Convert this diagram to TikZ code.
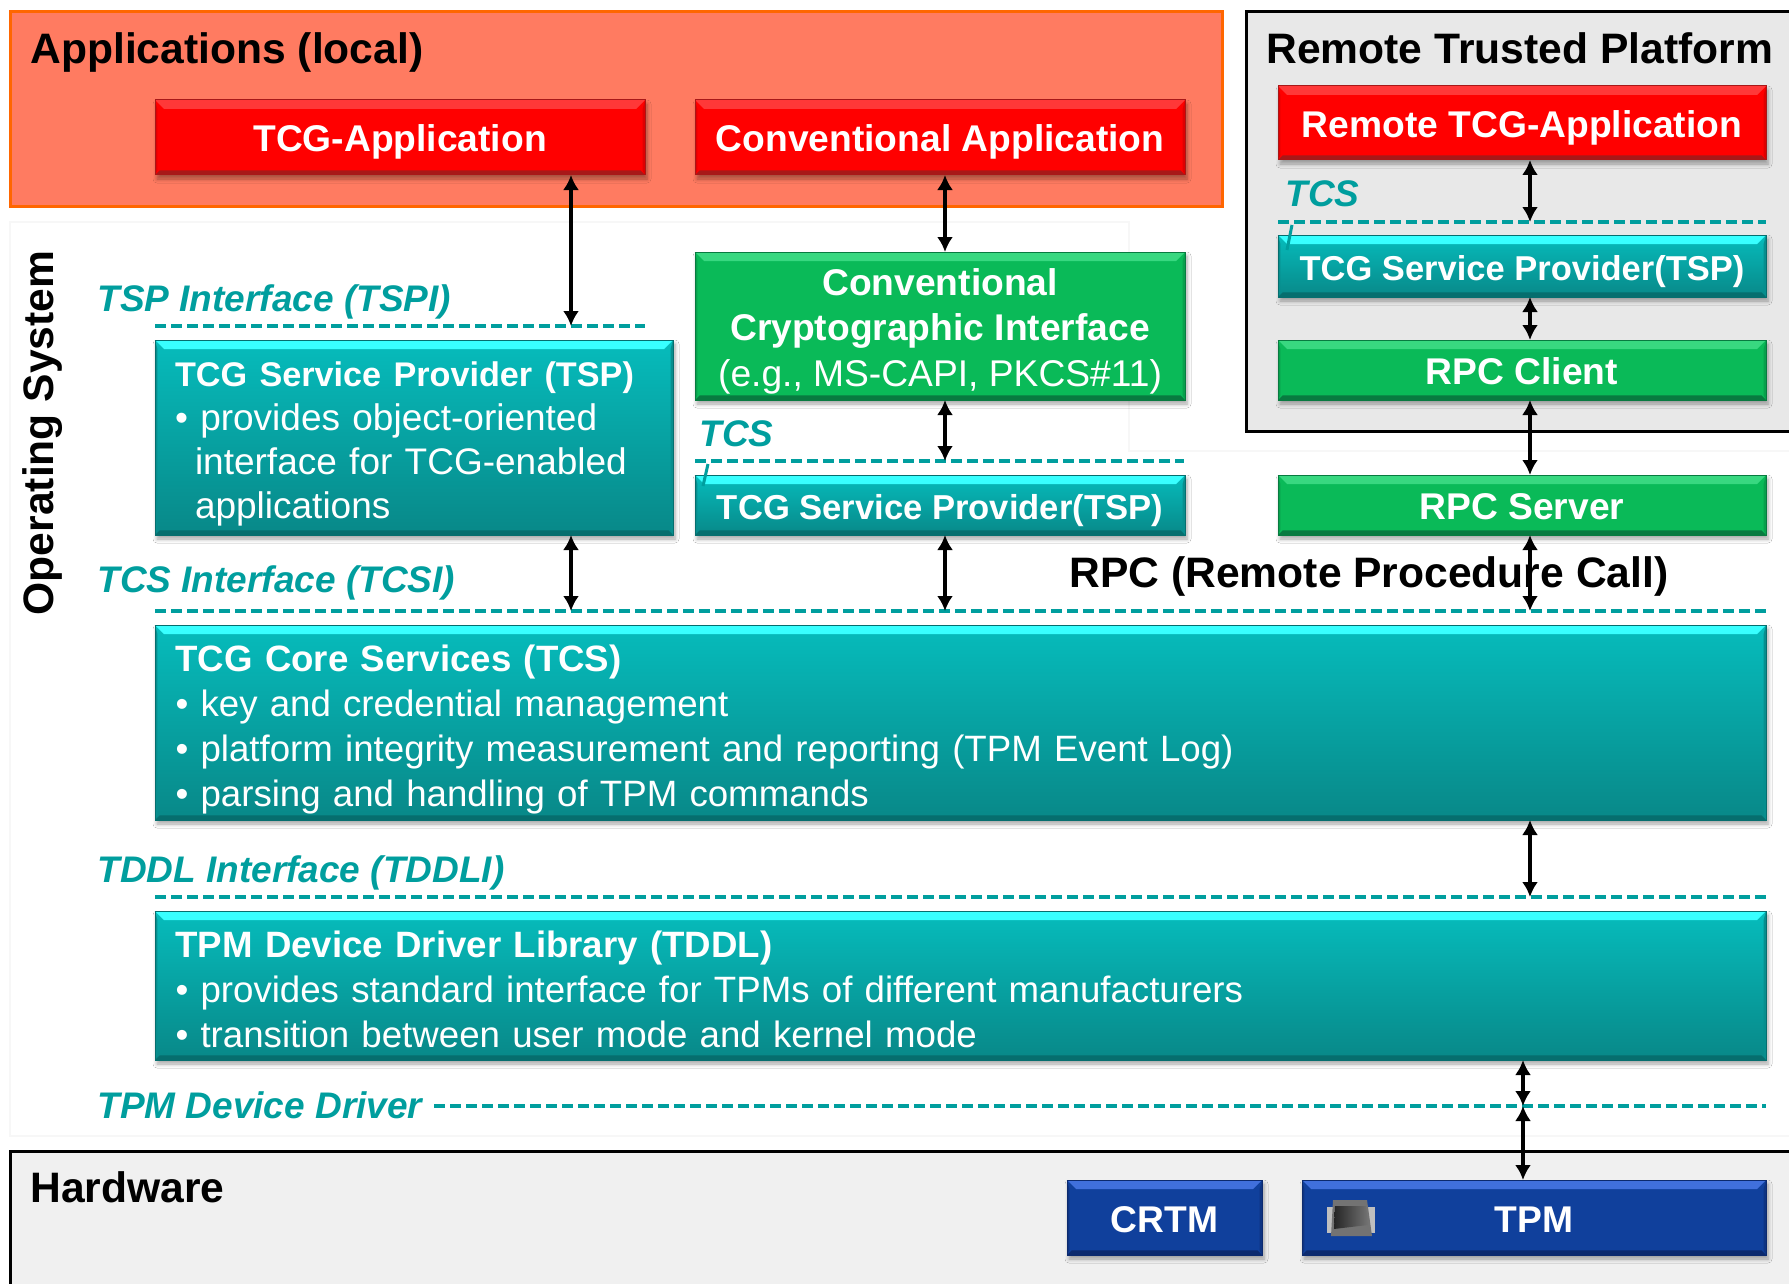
\documentclass[tikz,border=0pt]{standalone}
\usepackage{fontspec}
\setmainfont{Liberation Sans}
\usetikzlibrary{arrows.meta,shadows,shadows.blur}
\definecolor{apporange}{HTML}{FF7B61}
\definecolor{appborder}{HTML}{FF6600}
\definecolor{ifteal}{HTML}{009E9E}
\definecolor{redtop}{HTML}{FF3838}
\definecolor{redlow}{HTML}{A81818}
\definecolor{redside}{HTML}{E00000}
\definecolor{greenmain}{HTML}{0ABA58}
\definecolor{greentop}{HTML}{38D880}
\definecolor{greenlow}{HTML}{087A40}
\definecolor{greenside}{HTML}{08A04C}
\definecolor{tealup}{HTML}{06BCBC}
\definecolor{teallow}{HTML}{088888}
\definecolor{tealtop}{HTML}{38FFFF}
\definecolor{tealdark}{HTML}{066E6E}
\definecolor{tealside}{HTML}{078E8E}
\definecolor{bluemain}{HTML}{10409C}
\definecolor{bluetop}{HTML}{4070DC}
\definecolor{bluelow}{HTML}{0C2A6E}
\definecolor{blueside}{HTML}{0E3482}
\begin{document}
\begin{tikzpicture}[
    x=0.5pt, y=-0.5pt,
    >={Latex[length=7.5pt,width=8pt]},
    bevel/.style n args={3}{path picture={
        \fill[#1] (path picture bounding box.north west) -- (path picture bounding box.north east)
            -- ([xshift=-4.5pt,yshift=-4.5pt]path picture bounding box.north east)
            -- ([xshift=4.5pt,yshift=-4.5pt]path picture bounding box.north west) -- cycle;
        \fill[#2] (path picture bounding box.south west) -- (path picture bounding box.south east)
            -- ([xshift=-2.3pt,yshift=2.3pt]path picture bounding box.south east)
            -- ([xshift=2.3pt,yshift=2.3pt]path picture bounding box.south west) -- cycle;
        \fill[#3] (path picture bounding box.north east) -- (path picture bounding box.south east)
            -- ([xshift=-1.2pt,yshift=2.3pt]path picture bounding box.south east)
            -- ([xshift=-1.2pt,yshift=-4.5pt]path picture bounding box.north east) -- cycle;
        \fill[#3] (path picture bounding box.north west) -- (path picture bounding box.south west)
            -- ([xshift=1.2pt,yshift=2.3pt]path picture bounding box.south west)
            -- ([xshift=1.2pt,yshift=-4.5pt]path picture bounding box.north west) -- cycle;
    }},
    boxbase/.style={anchor=north west, outer sep=0pt, inner xsep=10pt, inner ysep=0pt, text=white, line width=0.5pt,
        align=center, font=\fontsize{18.6pt}{22.8pt}\selectfont\bfseries,
        blur shadow={shadow xshift=1pt, shadow yshift=-2pt, shadow blur radius=2pt, shadow blur steps=5, shadow opacity=35, shadow blur extra rounding=0pt}},
    oneline/.style={text height=16.5pt, text depth=2pt},
    redbox/.style={boxbase, draw=redlow, top color=red, bottom color=red, bevel={redtop}{redlow}{redside}},
    greenbox/.style={boxbase, draw=greenlow, top color=greenmain, bottom color=greenmain, bevel={greentop}{greenlow}{greenside}},
    tealbox/.style={boxbase, draw=tealdark, top color=tealup, bottom color=teallow, bevel={tealtop}{tealdark}{tealside}},
    bluebox/.style={boxbase, draw=bluelow, top color=bluemain, bottom color=bluemain, bevel={bluetop}{bluelow}{blueside}},
    textbox/.style={align=left, font=\fontsize{18.33pt}{22.6pt}\selectfont},
    area/.style={draw=black, line width=1.5pt},
    heading/.style={anchor=west, inner sep=0pt, font=\fontsize{21.3pt}{25pt}\selectfont\bfseries},
    iflabel/.style={anchor=west, inner sep=0pt, text=ifteal, font=\fontsize{18.5pt}{22pt}\selectfont\bfseries\itshape},
    ifline/.style={draw=ifteal, line width=1.8pt, dash pattern=on 5.5pt off 2.5pt},
    biarrow/.style={<->, line width=1.8pt}
]
\useasboundingbox (0,0) rectangle (1789,1284);

% regions
\fill[white] (0,0) rectangle (1789,1284);
\draw[draw=black!3, line width=1pt] (10,222) -- (1129,222) -- (1129,451) -- (1800,451) -- (1800,1136) -- (10,1136) -- cycle;
\draw[draw=appborder, fill=apporange, line width=1.5pt] (10,12) rectangle (1222,206);
\draw[area, fill=black!9] (1246,12) rectangle (1800,431);
\draw[area, fill=black!6] (10,1151) rectangle (1800,1300);

% headings
\node[heading] (applocal) at (30,52) {Applications (local)};
\node[heading] (remote) at (1266,48) {Remote Trusted Platform};
\node[heading] (hardware) at (30,1187) {Hardware};
\node[heading, anchor=center, rotate=90] (opsys) at (43,433) {Operating System};

% local applications
\node[redbox, oneline, minimum width=245pt, minimum height=37.5pt] (tcgapp) at (155,100) {TCG-Application};
\node[redbox, oneline, minimum width=245pt, minimum height=37.5pt] (convapp) at (695,100) {Conventional Application};

% remote platform
\node[redbox, oneline, minimum width=244pt, minimum height=37pt] (remoteapp) at (1278,86) {Remote TCG-Application};
\node[tealbox, oneline, font=\fontsize{17.25pt}{22pt}\selectfont\bfseries, minimum width=244pt, minimum height=31pt] (remotetsp) at (1278,235) {TCG Service Provider(TSP)};
\node[greenbox, oneline, minimum width=244pt, minimum height=30pt] (rpcclient) at (1278,340) {RPC Client};
\node[greenbox, oneline, minimum width=244pt, minimum height=30pt] (rpcserver) at (1278,475) {RPC Server};

% middle column
\node[greenbox, minimum width=245pt, minimum height=74pt] (convcrypt) at (695,252)
    {\rule{0pt}{21.5pt}Conventional\\Cryptographic Interface\\{\mdseries (e.g., MS-CAPI, PKCS\#11)}\rule[-6.9pt]{0pt}{6.9pt}};
\node[tealbox, oneline, font=\fontsize{17.3pt}{22pt}\selectfont\bfseries, minimum width=245pt, minimum height=30pt] (localtsp) at (695,475) {TCG Service Provider(TSP)};

% text boxes
\node[tealbox, textbox, font=\fontsize{18.5pt}{22pt}\selectfont, minimum width=259pt, minimum height=97.5pt, text width=239pt] (tspbox) at (155,340)
    {\rule{0pt}{23pt}{\fontsize{17.1pt}{22pt}\selectfont\bfseries TCG Service Provider (TSP)}\\
    {\mdseries • provides object-oriented\\\hspace{10pt}interface for TCG-enabled\\\hspace{10pt}applications}\rule[-8.5pt]{0pt}{8.5pt}};
\node[tealbox, textbox, minimum width=805.5pt, minimum height=97.5pt, text width=785pt] (tcsbox) at (155,625)
    {\rule{0pt}{23pt}{\bfseries TCG Core Services (TCS)}\\
    {\mdseries • key and credential management\\• platform integrity measurement and reporting (TPM Event Log)\\• parsing and handling of TPM commands}\rule[-6.7pt]{0pt}{6.7pt}};
\node[tealbox, textbox, minimum width=805.5pt, minimum height=74.5pt, text width=785pt] (tddlbox) at (155,911)
    {\rule{0pt}{23pt}{\bfseries TPM Device Driver Library (TDDL)}\\
    {\mdseries • provides standard interface for TPMs of different manufacturers\\• transition between user mode and kernel mode}\rule[-6.3pt]{0pt}{6.3pt}};

% hardware
\node[bluebox, oneline, minimum width=97.5pt, minimum height=37.5pt] (crtm) at (1067,1180) {CRTM};
\node[bluebox, oneline, minimum width=232pt, minimum height=37.5pt, text width=212pt] (tpm) at (1302,1180) {TPM};
\fill[black!25] (1327,1207) rectangle (1375,1233);
\fill[black!55] (1333,1200) -- (1367,1200) -- (1372,1236) -- (1331,1236) -- cycle;
\shade[left color=black!85, right color=black!55] (1335,1206) -- (1366,1206) -- (1368,1225) -- (1334,1229) -- cycle;

% interfaces
\node[iflabel] (tspilabel) at (97,302) {TSP Interface (TSPI)};
\node[iflabel] (tcsilabel) at (97,583) {TCS Interface (TCSI)};
\node[iflabel] (tddlilabel) at (97,873) {TDDL Interface (TDDLI)};
\node[iflabel] (driverlabel) at (97,1105) {TPM Device Driver};
\node[iflabel] (localtcs) at (699,434) {TCS};
\node[iflabel] (remotetcs) at (1285,194) {TCS};
\coordinate (tspistart) at (155,326);
\coordinate (tspiend) at (645,326);
\coordinate (localstart) at (695,461);
\coordinate (localend) at (1184,461);
\coordinate (remotestart) at (1278,222);
\coordinate (remoteend) at (1766,222);
\coordinate (tcsistart) at (155,611);
\coordinate (tcsiend) at (1766,611);
\coordinate (tddlistart) at (155,897);
\coordinate (tddliend) at (1766,897);
\coordinate (driverstart) at (434,1106);
\coordinate (driverend) at (1766,1106);
\draw[ifline] (tspistart) -- (tspiend);
\draw[ifline] (localstart) -- (localend);
\draw[ifline] (remotestart) -- (remoteend);
\draw[ifline] (tcsistart) -- (tcsiend);
\draw[ifline] (tddlistart) -- (tddliend);
\draw[ifline] (driverstart) -- (driverend);
\draw[draw=ifteal, line width=1.5pt] (708,464) -- (703,486);
\draw[draw=ifteal, line width=1.5pt] (1292,225) -- (1287,250);

\node[heading, anchor=center] (rpclabel) at (1369,576) {RPC (Remote Procedure Call)};

% connectors
\coordinate (tspiarrow) at (571,326);
\coordinate (convarrow) at (945,461);
\coordinate (tcsileft) at (571,611);
\coordinate (tcsimid) at (945,611);
\coordinate (tcsiright) at (1530,611);
\coordinate (remotearrow) at (1530,222);
\coordinate (tddliarrow) at (1530,897);
\coordinate (driverarrow) at (1523,1106);
\draw[biarrow] (tcgapp.south -| tspiarrow) -- (tspiarrow);
\draw[biarrow] (convapp.south -| convarrow) -- (convcrypt.north -| convarrow);
\draw[biarrow] (convcrypt.south -| convarrow) -- (convarrow);
\draw[biarrow] (tspbox.south -| tcsileft) -- (tcsileft);
\draw[biarrow] (localtsp.south -| tcsimid) -- (tcsimid);
\draw[biarrow] (remoteapp.south -| remotearrow) -- (remotearrow);
\draw[biarrow] (remotetsp.south -| remotearrow) -- (rpcclient.north -| remotearrow);
\draw[biarrow] (rpcclient.south -| remotearrow) -- (rpcserver.north -| remotearrow);
\draw[biarrow] (rpcserver.south -| tcsiright) -- (tcsiright);
\draw[biarrow] (tcsbox.south -| tddliarrow) -- (tddliarrow);
\draw[biarrow] (tddlbox.south -| driverarrow) -- (driverarrow);
\draw[biarrow] (driverarrow) -- (tpm.north -| driverarrow);
\end{tikzpicture}
\end{document}
